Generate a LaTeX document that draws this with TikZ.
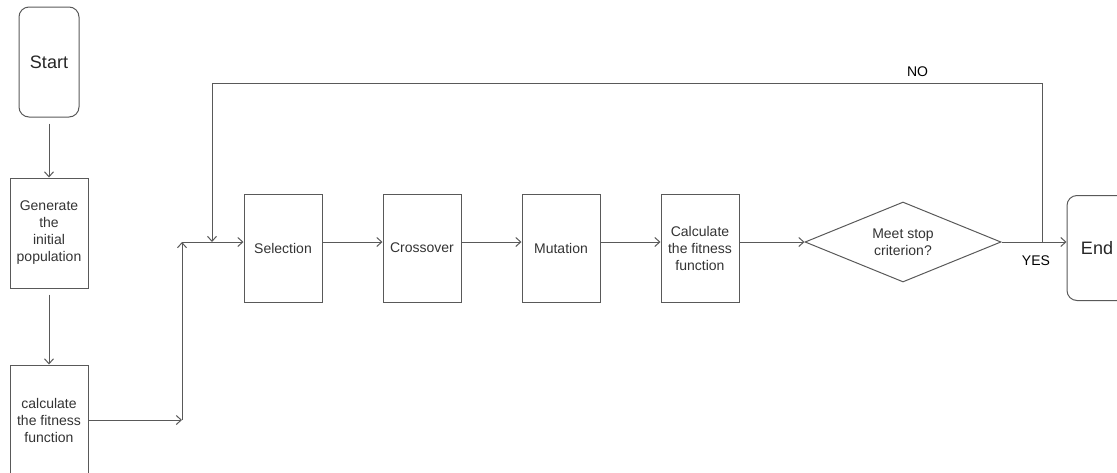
\documentclass[tikz,border=0pt]{standalone}
\usepackage{fontspec}
\setmainfont{Liberation Sans}
\usepackage{tikz}
\usetikzlibrary{shapes.geometric, arrows.meta}
\tikzstyle{block} = [draw=black!65, line width=1pt, rectangle, align=center,
    minimum height=108pt, minimum width=78pt, text=black!80]
\tikzstyle{terminal} = [draw=black!65, line width=1pt, rectangle,
    rounded corners=10pt, minimum height=110pt, minimum width=60pt,
    text=black!85, font=\fontsize{18}{22}\selectfont]
\tikzstyle{decision} = [draw=black!65, line width=1pt, diamond,
    shape aspect=2.45, minimum width=196pt, minimum height=80pt,
    align=center, inner sep=2pt, text=black!80]
\tikzstyle{junction} = [coordinate]
\tikzstyle{link} = [draw=black!65, line width=1pt,
    >={Straight Barb[length=5pt, width=9pt]}]

\begin{document}
\begin{tikzpicture}[auto, x=1pt, y=1pt, node distance=139pt,
    font=\fontsize{14}{17}\selectfont]
    \useasboundingbox (0,0) rectangle (1117,-472);
    % % % % % % % % % % % % % % % % % % % % % % %
    % Left column
    % % % % % % % % % % % % % % % % % % % % % % %
    \node [terminal] (start) at (49,-62) {Start};
    
    % initial population
    \node [block, below of=start, node distance=171pt,
        minimum height=110pt] (init) {Generate\\the\\initial\\population};
    
    % first fitness
    \node [block, below of=init, node distance=187pt,
        minimum height=110pt] (fit0) {calculate\\the fitness\\function};
    
    % % % % % % % % % % % % % % % % % % % % % % %
    % Main loop
    % % % % % % % % % % % % % % % % % % % % % % %
    \node [block] (sel) at (283,-248) {Selection};
    \node [block, right of=sel] (cross) {Crossover};
    \node [block, right of=cross] (mut) {Mutation};
    \node [block, right of=mut] (fit) {Calculate\\the fitness\\function};
    
    % stop test
    \node [decision, right of=fit, node distance=203pt, yshift=6pt]
        (stop) {Meet stop\\criterion?};
    
    % end node
    \node [terminal, right of=stop, node distance=194pt, yshift=-6pt,
        minimum height=105pt] (end) {End};
    
    % silent nodes
    \node [junction, right of=fit0, node distance=133pt] (bend) {};
    \node [junction] (join) at (182,-242) {};
    \node [junction] (back) at (212,-242) {};
    \node [junction] (fb) at (1042,-242) {};
    
    % Connections
    \draw [link,->, shorten <=6pt] (start) -- (init);
    \draw [link,->, shorten <=6pt] (init) -- (fit0);
    \draw [link,->] (fit0) -- (bend);
    \draw [link,->] (bend) -- (join);
    \draw [link,->] (join) -- (back -| sel.west);
    \draw [link,->] ([yshift=6pt]sel.east) -- ([yshift=6pt]cross.west);
    \draw [link,->] ([yshift=6pt]cross.east) -- ([yshift=6pt]mut.west);
    \draw [link,->] ([yshift=6pt]mut.east) -- ([yshift=6pt]fit.west);
    \draw [link,->] ([yshift=6pt]fit.east) -- (stop);
    \draw [link,->] (stop) -- node [below=10pt, pos=0.53] {YES}
        (end.west |- stop);
    
    % feedback loop
    \draw [link,->] (fb) -- ++(0,159) -- node [above=3pt, pos=0.15] {NO}
        ++(-830,0) -- (back);
    
\end{tikzpicture}
\end{document}
